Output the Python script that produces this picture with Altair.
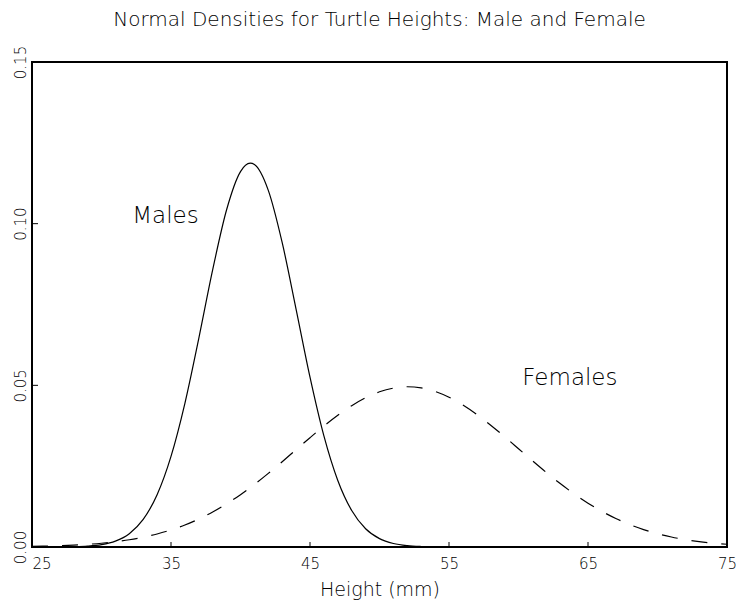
import altair as alt
import pandas as pd

# Male normal density
male_x = [25, 26, 27, 28, 29, 30, 31, 32, 33, 34, 35, 36, 37, 38, 39, 40, 40.7, 41,
          42, 43, 44, 45, 46, 47, 48, 49, 50, 51, 52, 53, 54, 55, 60, 75]
male_y = [0.000002, 0.000008, 0.000029, 0.000093, 0.000273, 0.000738, 0.001825,
          0.004125, 0.008536, 0.01616, 0.02802, 0.04445, 0.06454, 0.08576, 0.1043,
          0.1161, 0.1187, 0.1183, 0.1103, 0.09412, 0.07352, 0.05255, 0.03438,
          0.02059, 0.01128, 0.005659, 0.002598, 0.001092, 0.00042, 0.000148,
          0.000046, 0.000013, 0.0, 0.0]

# Female normal density
female_x = list(range(25, 76))
female_y = [0.000176, 0.000265, 0.000393, 0.000573, 0.000825, 0.001168, 0.001628,
            0.002235, 0.003023, 0.004023, 0.005272, 0.006806, 0.008652, 0.01083,
            0.01335, 0.01619, 0.01935, 0.02277, 0.02638, 0.03010, 0.03381, 0.03740,
            0.04074, 0.04370, 0.04615, 0.04800, 0.04915, 0.04956, 0.04921, 0.04811,
            0.04632, 0.04391, 0.04099, 0.03768, 0.03410, 0.03040, 0.02667, 0.02305,
            0.01962, 0.01644, 0.01356, 0.01102, 0.008812, 0.006943, 0.005387,
            0.004113, 0.003094, 0.002292, 0.001671, 0.001200, 0.000848]

x_ticks = [25, 35, 45, 55, 65, 75]
y_ticks = [0.0, 0.05, 0.10, 0.15]

label_text = ["Males", "Females"]
label_x = [34.6, 63.7]
label_y = [0.1024, 0.0523]

TITLE = "Normal Densities for Turtle Heights: Male and Female"
FONT = "DejaVu Sans"
W, H = 695, 485

male_df = pd.DataFrame({"x": male_x, "y": male_y})
female_df = pd.DataFrame({"x": female_x, "y": female_y})
lab_df = pd.DataFrame({"t": label_text, "x": label_x, "y": label_y})
xt_df = pd.DataFrame({"x": x_ticks})
yt_df = pd.DataFrame({"y": y_ticks})
title_df = pd.DataFrame({"t": [TITLE]})

xscale = alt.Scale(domain=[25, 75], nice=False, zero=False)
yscale = alt.Scale(domain=[0, 0.15], nice=False, zero=False)

x_axis = alt.Axis(
    values=x_ticks, format="d", title="Height (mm)", grid=False, ticks=False,
    domain=False, labelFont=FONT, labelFontSize=15, labelColor="black",
    labelFontWeight=300, labelFlush=False,
    labelAlign={"condition": {"test": "datum.value == 25", "value": "left"}, "value": "center"},
    labelPadding=9, titleFont=FONT, titleFontSize=19, titleFontWeight=300,
    titleColor="black", titleY=48, titleBaseline="alphabetic",
)
y_axis = alt.Axis(
    values=y_ticks, format=".2f", title=None, grid=False, ticks=False,
    domain=False, labelFont=FONT, labelFontSize=15, labelColor="black",
    labelFontWeight=300, labelAngle=270, labelAlign="center",
    labelBaseline="alphabetic", labelPadding=7, labelFlush=False,
)

male = alt.Chart(male_df).mark_line(
    color="black", strokeWidth=1.2, interpolate="monotone"
).encode(
    x=alt.X("x:Q", scale=xscale, axis=x_axis),
    y=alt.Y("y:Q", scale=yscale, axis=y_axis),
)

female = alt.Chart(female_df).mark_line(
    color="black", strokeWidth=1.2, strokeDash=[16, 14], interpolate="monotone"
).encode(
    x=alt.X("x:Q", scale=xscale),
    y=alt.Y("y:Q", scale=yscale),
)

labels = alt.Chart(lab_df).mark_text(
    font=FONT, fontSize=23, fontWeight=300, color="black",
    align="center", baseline="middle"
).encode(
    x=alt.X("x:Q", scale=xscale),
    y=alt.Y("y:Q", scale=yscale),
    text="t:N",
)

title = alt.Chart(title_df).mark_text(
    font=FONT, fontSize=20, fontWeight=300, color="black",
    align="center", baseline="alphabetic"
).encode(
    x=alt.value(W / 2),
    y=alt.value(-36),
    text="t:N",
)

xticks = alt.Chart(xt_df).mark_rule(color="black", strokeWidth=1).encode(
    x=alt.X("x:Q", scale=xscale),
    y=alt.value(H),
    y2=alt.value(H - 5),
)
yticks = alt.Chart(yt_df).mark_rule(color="black", strokeWidth=1).encode(
    y=alt.Y("y:Q", scale=yscale),
    x=alt.value(0),
    x2=alt.value(6),
)

chart = alt.layer(male, female, labels, title, xticks, yticks).properties(
    width=W, height=H,
    autosize=alt.AutoSizeParams(type="none"),
    padding={"left": 32, "top": 62, "right": 9, "bottom": 54},
    background="white",
).configure_view(stroke="black", strokeWidth=2)

chart.save("out.html", embed_options={"renderer": "svg", "actions": False})
